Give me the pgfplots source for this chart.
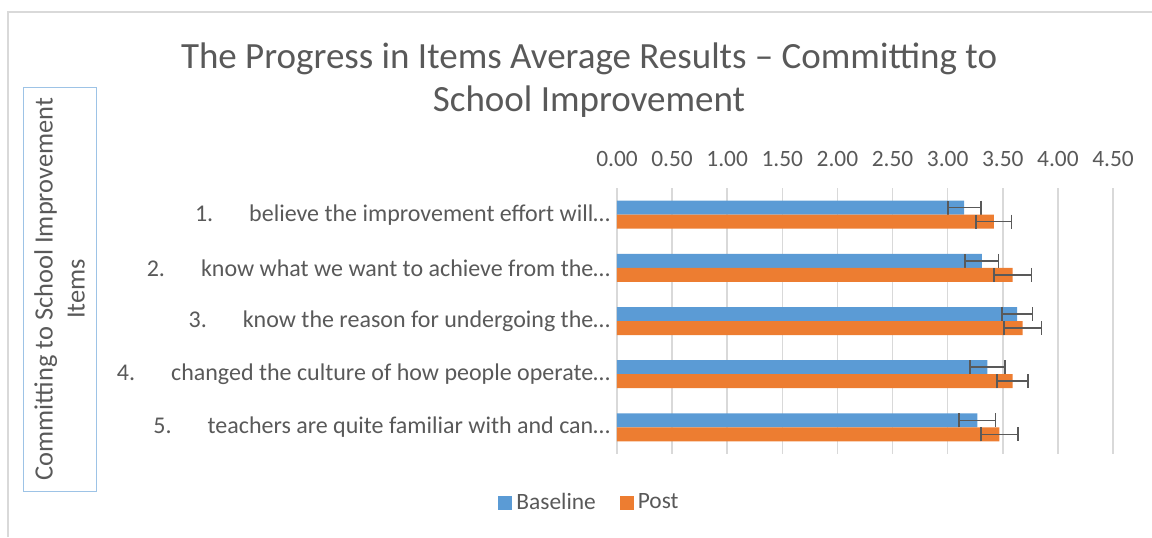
\documentclass[border=0pt]{standalone}
\usepackage{pgfplots}
\pgfplotsset{compat=1.18}
\usepackage{pgfplotstable}
\usepackage{fontspec}
\setmainfont{Carlito}

\definecolor{cblue}{HTML}{5B9BD5}
\definecolor{corange}{HTML}{ED7D31}
\definecolor{ctext}{HTML}{595959}
\definecolor{cgrid}{HTML}{D9D9D9}
\definecolor{cbox}{HTML}{9DC3E6}

% item, baseline mean, baseline err, post mean, post err
\pgfplotstableread{
y base baseerr post posterr
1 3.15 0.15  3.42 0.16
2 3.31 0.15  3.59 0.17
3 3.63 0.14  3.68 0.17
4 3.36 0.16  3.59 0.14
5 3.27 0.165 3.47 0.17
}\datatable

\pgfplotsset{errstyle/.style={error bars/.cd, x dir=both, x explicit,
  error bar style={draw=ctext, line width=0.85pt},
  error mark=|,
  error mark options={draw=ctext, line width=0.85pt, mark size=3.5pt}}}

\begin{document}
\begin{tikzpicture}
\useasboundingbox (0,0) rectangle (576pt,268.5pt);
\draw[cgrid, line width=0.8pt] (4pt,0) -- (4pt,262.5pt) -- (576pt,262.5pt);
\begin{axis}[
  at={(308.5pt,174.5pt)}, anchor=north west,
  scale only axis, width=248pt, height=133pt,
  xbar=0pt, bar width=7pt,
  xmin=0, xmax=4.5, ymin=0.5, ymax=5.5, y dir=reverse,
  xtick={0,0.5,1,1.5,2,2.5,3,3.5,4,4.5},
  xticklabels={0.00,0.50,1.00,1.50,2.00,2.50,3.00,3.50,4.00,4.50},
  xticklabel pos=upper,
  ytick={1,2,3,4,5},
  yticklabels={
    {1.\hspace{18pt}believe the improvement effort will…},
    {2.\hspace{18pt}know what we want to achieve from the…},
    {3.\hspace{18pt}know the reason for undergoing the…},
    {4.\hspace{18pt}changed the culture of how people operate…},
    {5.\hspace{18pt}teachers are quite familiar with and can…}},
  axis line style={draw=none},
  major tick length=0pt,
  xmajorgrids, grid style={cgrid, line width=0.75pt},
  xticklabel style={font=\fontsize{11.7}{14}\selectfont, text=ctext, yshift=7pt},
  yticklabel style={font=\fontsize{12}{14}\selectfont, text=ctext},
  title={The Progress in Items Average Results – Committing to\\School Improvement},
  title style={at={(axis description cs:-0.0565,1.359)}, anchor=center, align=center,
    font=\fontsize{18.5}{21.5}\selectfont, text=ctext},
  ylabel={Committing to School Improvement\\Items},
  ylabel style={at={(axis description cs:-1.124,0.620)}, anchor=center, align=center,
    draw=cbox, line width=0.5pt, minimum width=202pt, minimum height=36.5pt,
    font=\fontsize{13.2}{16}\selectfont, text=ctext},
  legend style={at={(axis description cs:-0.0534,-0.184)}, anchor=center, draw=none,
    legend columns=2, font=\fontsize{11.7}{14}\selectfont, text=ctext,
    /tikz/every even column/.append style={column sep=10pt}},
  legend image code/.code={\fill[#1] (0pt,-3.5pt) rectangle (7pt,3.5pt);},
]
\addplot[fill=cblue, draw=none, bar shift=3.5pt, errstyle]
  table[x=base, y=y, x error=baseerr] {\datatable};
\addplot[fill=corange, draw=none, bar shift=-3.5pt, errstyle]
  table[x=post, y=y, x error=posterr] {\datatable};
\legend{Baseline, Post}
\end{axis}
\end{tikzpicture}
\end{document}
